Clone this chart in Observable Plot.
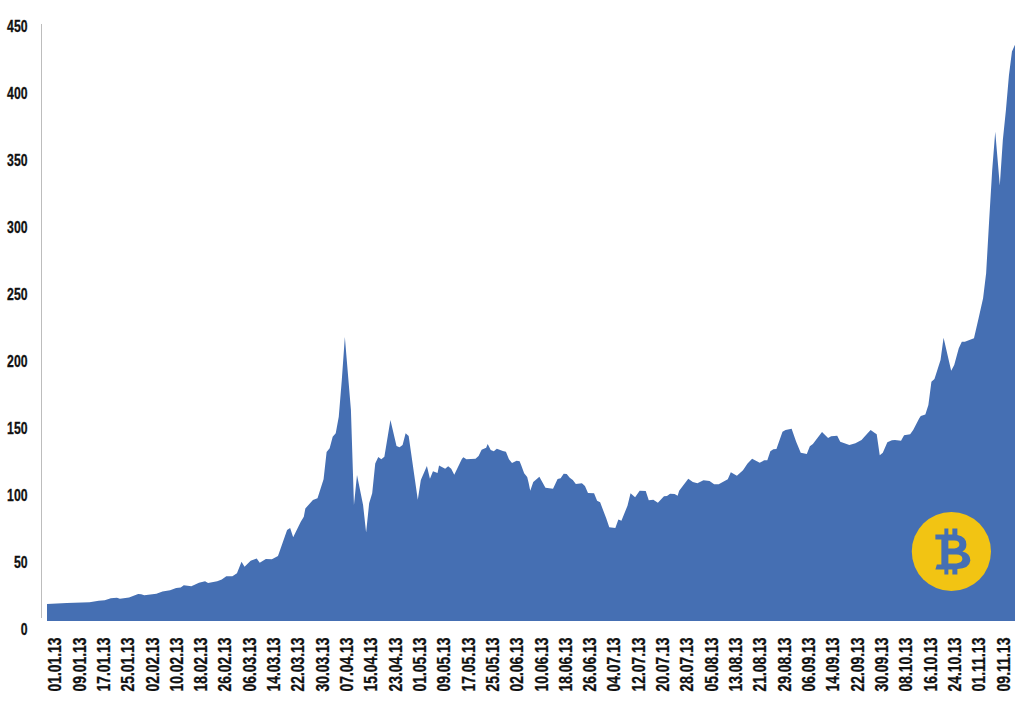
<!DOCTYPE html>
<html>
<head>
<meta charset="utf-8">
<script src="https://cdn.jsdelivr.net/npm/d3@7"></script>
<script src="https://cdn.jsdelivr.net/npm/@observablehq/plot@0.6"></script>
<style>
html,body{margin:0;padding:0;background:#fff}
svg{display:block}
[aria-label="y-axis tick label"] text,[aria-label="x-axis tick label"] text{stroke:#111;stroke-width:.3px}
</style>
</head>
<body>
<div id="chart"></div>
<script>
const days = [0,6.5,14,17,19,21,23,24,27,30,31,32,36,38,40.5,42.5,44,45,47.5,50,52,53,56,57.5,59,61,62.5,64,65,67,69,70,72,74,76,79,80,81,83.5,84.5,85,87.5,89,91,92,93,94,95,96,97,98,100,101,102,104,105,106,107,108,109,110,111,113,115,116,117,118,119,122,123,125,126,127,128.5,129,131,132,133,134,136.5,137,138,141,142,143,144.5,145,146,147,148,150,151,152,153,154.5,155.5,156,157,158,158.5,159,160,162,164,166.5,168,169,170,171,172,173,174,176,177,178,180,181,182,184,185,187,188,189,191,192,193.5,195,197,198,199.5,201,203,204,205,206.5,207.5,208,211,212.5,214,216,218,219.5,221,224,225,227,229,230.5,232,234.5,236,237,238,239,240,242,243,245,246.5,248,250,251,252,255,257,258,260,261,264,266,268,270,271,272.5,273,274,275,276.5,278,279,281,282,284,285,287,287.5,289,290,291,292,294,295,297.5,298.5,300,301,302,303.5,305,306.5,308,309,310,311,312,313.5,314.5,315.5,316.5,317.5,318.5];
const prices = [18.7,19.4,19.9,21,21.4,22.9,23.4,22.6,23.6,26.1,26,25.1,26.3,28,29,30.6,31,32.6,31.9,34.6,35.6,34.3,35.6,37,39.3,39.3,41.6,50.2,46.5,51,52.7,49.5,52.2,52,54.5,73.9,75.4,68.4,80,83.8,90,96.3,97.5,111.7,132,134.9,143.5,146,158.4,185.8,218,163.4,92.5,114.9,92.5,72.1,93.8,101.3,123.6,128.4,126.6,128.6,156,136.6,135.6,137.3,146,144,96.5,111.2,121.6,112.2,117.7,116.4,122.1,119.6,121.4,119.6,115.2,126.9,128.1,126.6,127.1,129.1,133.8,135.3,138,133.6,132.6,134.6,132.8,132.3,126.6,123.9,125.6,125.1,122.4,116.2,113.4,108.7,103.2,109.7,113.7,105.5,104.7,111.9,112.5,115.9,115.7,112.9,111.2,108.2,108.7,106.7,101.5,101.3,95.8,94.5,82.6,75.9,75.4,81.8,80.8,92,101.3,98.3,103.2,103,96,96.5,94.3,99,99.3,101,100.7,99.5,103.2,112.2,109.7,108.7,111,110.4,108,108,111.7,116.9,114.4,118.4,123.6,127.1,124.1,125.9,125.9,132.6,134.1,134.3,147.2,148.5,149.5,139.8,131.6,130.6,136.3,138,147,142.5,143.8,144.3,139.8,137.3,138.6,141,146,148.5,146,145.3,129.6,131.6,139.3,140.8,141,140.5,144.5,145.3,148.5,157.2,159,160,167.2,184.6,186.6,200.7,217.4,192.8,197,209.5,214.4,214.4,215.7,217,231.7,246.8,265.4,305,342.5,371,331,365,387,413,431,436];
const tickLabels = ["01.01.13","09.01.13","17.01.13","25.01.13","02.02.13","10.02.13","18.02.13","26.02.13","06.03.13","14.03.13","22.03.13","30.03.13","07.04.13","15.04.13","23.04.13","01.05.13","09.05.13","17.05.13","25.05.13","02.06.13","10.06.13","18.06.13","26.06.13","04.07.13","12.07.13","20.07.13","28.07.13","05.08.13","13.08.13","21.08.13","29.08.13","06.09.13","14.09.13","22.09.13","30.09.13","08.10.13","16.10.13","24.10.13","01.11.13","09.11.13"];
const tickDays = tickLabels.map((_, i) => i * 8);
const yTicks = [0,50,100,150,200,250,300,350,400,450];
const areaBase = 6;
const axisLine = {x: -1.974, from: 8.2, to: 451.5};
const logo = {day: 297.4, value: 58.2};

const table = days.map((d, i) => ({day: d, price: prices[i]}));

// The bitcoin glyph as a custom symbol; holes wind the opposite way.
const bitcoinGlyph = {
  draw(c) {
    c.moveTo(-16,-17);c.lineTo(-7,-17);c.lineTo(-7,-23);c.lineTo(-3,-23);c.lineTo(-3,-17);
    c.lineTo(1,-17);c.lineTo(1,-23);c.lineTo(6,-23);c.lineTo(6,-16.5);
    c.quadraticCurveTo(15,-15,15,-7);c.quadraticCurveTo(15,-2,11,0);
    c.quadraticCurveTo(19,2,19,9);c.quadraticCurveTo(18,17,6,17.5);
    c.lineTo(6,23);c.lineTo(1,23);c.lineTo(1,18);c.lineTo(-3,18);c.lineTo(-3,23);
    c.lineTo(-7,23);c.lineTo(-7,18);c.lineTo(-16,18);c.lineTo(-14.5,13);c.lineTo(-10,13);
    c.lineTo(-10,-12);c.lineTo(-16,-12);c.closePath();
    c.moveTo(-3,-11);c.lineTo(-3,-3);c.lineTo(3,-3);
    c.quadraticCurveTo(8,-4,8,-7);c.quadraticCurveTo(8,-11,3,-11);c.closePath();
    c.moveTo(-3,3);c.lineTo(-3,12);c.lineTo(5,12);
    c.quadraticCurveTo(11,11,11,7.5);c.quadraticCurveTo(11,3,5,3);c.closePath();
  }
};

const blue = "#456fb3";
const font = "'Liberation Sans',sans-serif";

const chart = Plot.plot({
  width: 1024,
  height: 705,
  marginTop: 26,
  marginBottom: 76,
  marginLeft: 47,
  marginRight: 9,
  style: {fontFamily: font, background: "#fff"},
  x: {domain: [0, 318.5], axis: null},
  y: {domain: [0, 450], axis: null},
  marks: [
    Plot.areaY(table, {x: "day", y1: areaBase, y2: "price", fill: blue}),
    Plot.ruleX([axisLine.x], {y1: axisLine.from, y2: axisLine.to, stroke: "#bdbdbd", strokeWidth: 1}),
    Plot.axisY(yTicks, {
      anchor: "left", label: null, tickSize: 0, tickPadding: 20,
      fontSize: 16, fontWeight: 700, fill: "#111", tickFormat: d => String(d)
    }),
    Plot.axisX(tickDays, {
      anchor: "bottom", label: null, tickSize: 0, tickPadding: 8, tickRotate: -90, dx: 8,
      fontSize: 18, fontWeight: 700, fill: "#111", tickFormat: d => tickLabels[d / 8]
    }),
    Plot.dot([logo], {x: "day", y: "value", r: 39.6, fill: "#f2c413", stroke: null}),
    Plot.dot([logo], {x: "day", y: "value", symbol: bitcoinGlyph, fill: blue, stroke: null})
  ]
});

// The installed fonts have no bold condensed face, so the tick labels are narrowed to fit.
function narrow(selector, pxPerChar) {
  chart.querySelectorAll(selector + " text").forEach(t => {
    t.setAttribute("textLength", t.textContent.length * pxPerChar);
    t.setAttribute("lengthAdjust", "spacingAndGlyphs");
  });
}
narrow('[aria-label="y-axis tick label"]', 6.8);
narrow('[aria-label="x-axis tick label"]', 6.75);

document.getElementById("chart").appendChild(chart);
</script>
</body>
</html>
